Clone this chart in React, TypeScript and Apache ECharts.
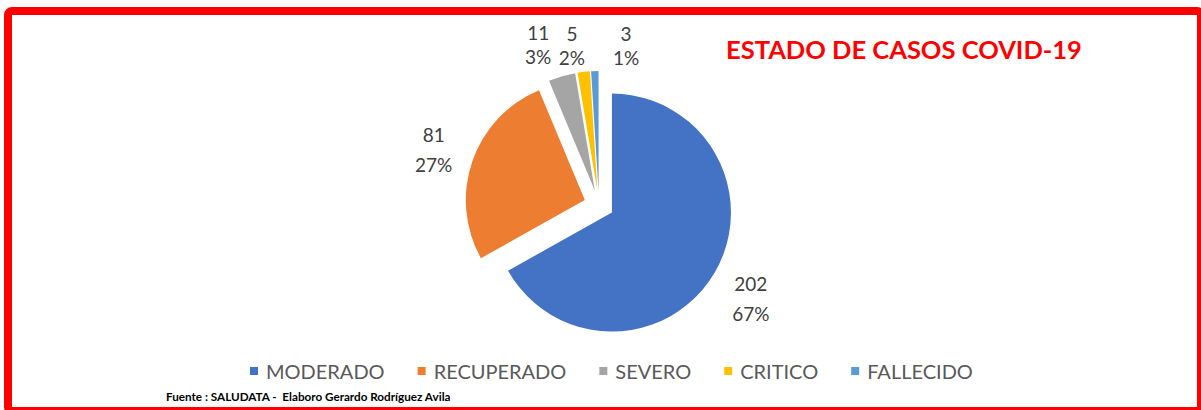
import React, { useEffect, useRef } from "react";
import * as echarts from "echarts";

const categories = ["MODERADO", "RECUPERADO", "SEVERO", "CRITICO", "FALLECIDO"];
const values = [202, 81, 11, 5, 3];
const colors = ["#4472C4", "#ED7D31", "#A5A5A5", "#FFC000", "#5B9BD5"];
const titleText = "ESTADO DE CASOS COVID-19";
const footerText = "Fuente : SALUDATA -  Elaboro Gerardo Rodríguez Avila";

// layout constants
const CX = 599;
const CY = 205;
const R = 119;
const EXPLODE = 15;
const LABEL_DIST = 176;
const labelNudge: [number, number][] = [
  [0, 4],
  [1, 2.5],
  [-12, 9],
  [-7, 15],
  [32.5, 16],
];
const labelLineHeights = [30, 30, 24, 24, 24];

// percentages rounded so they sum to 100 (largest remainder)
function roundedPercents(vals: number[]): number[] {
  const total = vals.reduce((a, b) => a + b, 0);
  const raw = vals.map((v) => (v / total) * 100);
  const floors = raw.map((x) => Math.floor(x));
  let left = 100 - floors.reduce((a, b) => a + b, 0);
  const order = raw
    .map((x, i) => ({ i, r: x - Math.floor(x) }))
    .sort((a, b) => b.r - a.r);
  for (let k = 0; k < order.length && left > 0; k++, left--) floors[order[k].i] += 1;
  return floors;
}

export default function App() {
  const ref = useRef<HTMLDivElement>(null);
  useEffect(() => {
    if (!ref.current) return;
    const chart = echarts.init(ref.current, null, { renderer: "svg" });
    const total = values.reduce((a, b) => a + b, 0);
    const pcts = roundedPercents(values);
    const starts: number[] = [];
    const mids: number[] = [];
    let acc = 0;
    values.forEach((v) => {
      const span = (v / total) * Math.PI * 2;
      starts.push(acc);
      mids.push(acc + span / 2);
      acc += span;
    });

    const series = categories.map((name, i) => {
      const a = mids[i];
      const cx = CX + Math.sin(a) * EXPLODE;
      const cy = CY - Math.cos(a) * EXPLODE;
      return {
        type: "pie",
        name: "slice" + i,
        center: [cx, cy],
        radius: [0, R],
        startAngle: 90 - (starts[i] * 180) / Math.PI,
        clockwise: true,
        avoidLabelOverlap: false,
        silent: true,
        emphasis: { disabled: true },
        labelLine: { show: false },
        label: {
          show: true,
          position: "outside",
          formatter: (p: any) => `${p.value}\n${pcts[i]}%`,
          fontFamily: "Lato",
          fontSize: 19,
          color: "#404040",
          lineHeight: labelLineHeights[i],
        },
        labelLayout: (p: any) => {
          if (p.dataIndex !== 0) return {};
          return {
            x: CX + Math.sin(a) * LABEL_DIST + labelNudge[i][0],
            y: CY - Math.cos(a) * LABEL_DIST + labelNudge[i][1],
            align: "center",
            verticalAlign: "middle",
          };
        },
        data: [
          { name, value: values[i], itemStyle: { color: colors[i] } },
          {
            name: "_rest" + i,
            value: total - values[i],
            itemStyle: { color: "rgba(0,0,0,0)" },
            label: { show: false },
            labelLine: { show: false },
          },
        ],
      };
    });

    chart.setOption({
      animation: false,
      backgroundColor: "#ffffff",
      title: [
        {
          text: titleText,
          left: 721,
          top: 31,
          textStyle: {
            fontFamily: "Lato",
            fontWeight: "bold",
            fontSize: 25.5,
            color: "#FF0000",
          },
        },
        {
          text: footerText,
          left: 161,
          top: 385,
          textStyle: {
            fontFamily: "Lato",
            fontWeight: "bold",
            fontSize: 11.7,
            color: "#000000",
          },
        },
      ],
      legend: {
        data: categories,
        left: 245,
        top: 356,
        icon: "rect",
        itemWidth: 8,
        itemHeight: 8,
        itemGap: 33,
        selectedMode: false,
        textStyle: {
          fontFamily: "Lato",
          fontSize: 20,
          color: "#595959",
          padding: [0, 0, 0, 3],
        },
      },
      graphic: [
        {
          type: "rect",
          shape: { x: 8, y: 11, width: 1193, height: 400, r: 4 },
          style: { fill: "none", stroke: "#FF0000", lineWidth: 8 },
          silent: true,
        },
      ],
      series,
    });
    return () => chart.dispose();
  }, []);
  return (
    <div
      ref={ref}
      style={{ position: "absolute", left: 0, top: 0, width: 1201, height: 410, background: "#fff" }}
    />
  );
}
